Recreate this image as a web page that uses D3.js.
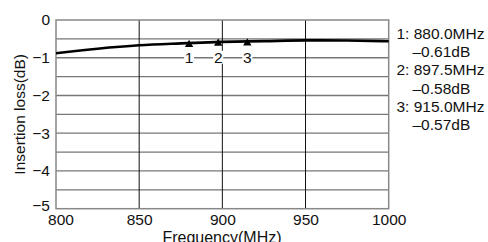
<!DOCTYPE html>
<html><head><meta charset="utf-8">
<script src="https://cdn.jsdelivr.net/npm/d3@7"></script>
<style>body{margin:0;background:#fff}text{font-family:"Liberation Sans",Arial,sans-serif}</style>
</head><body><svg id="c" width="488" height="242"></svg>
<script>
const freqs = [800, 825, 850, 875, 900, 925, 950, 975, 1000];
const loss = [-0.88, -0.76, -0.67, -0.62, -0.58, -0.56, -0.54, -0.545, -0.565];
const markerIds = ["1", "2", "3"];
const markerFreqs = [880.0, 897.5, 915.0];
const markerLoss = [-0.61, -0.58, -0.57];
const xTicks = [800, 850, 900, 950, 1000];
const yTicks = [0, -1, -2, -3, -4, -5];
const yGrid = [-0.5, -1, -1.5, -2, -2.5, -3, -3.5, -4, -4.5];

const FS = 15.5;
const svg = d3.select("#c");
const L = 56, R = 388.7, T = 20, B = 208.7;
const x = d3.scaleLinear().domain([800, 1000]).range([L, R]);
const y = d3.scaleLinear().domain([0, -5]).range([T, B]);

// horizontal grid
svg.append("g").selectAll("line").data(yGrid).join("line")
  .attr("x1", L).attr("x2", R).attr("y1", d => y(d)).attr("y2", d => y(d))
  .attr("stroke", "#777").attr("stroke-width", 1.3);
// vertical grid
svg.append("g").selectAll("line").data(xTicks.slice(1, -1)).join("line")
  .attr("x1", d => x(d)).attr("x2", d => x(d)).attr("y1", T).attr("y2", B)
  .attr("stroke", "#111").attr("stroke-width", 1);
// frame
svg.append("rect").attr("x", L).attr("y", T).attr("width", R - L).attr("height", B - T)
  .attr("fill", "none").attr("stroke", "#888").attr("stroke-width", 1.5);

// axes
const yAxis = d3.axisLeft(y).tickValues(yTicks).tickSize(0).tickPadding(6)
  .tickFormat(d => d === 0 ? "0" : "\u2212" + Math.abs(d));
const gy = svg.append("g").attr("transform", `translate(${L},0)`).call(yAxis);
gy.select(".domain").remove();
gy.selectAll("text").attr("font-size", FS).attr("fill", "#111")
  .attr("font-family", "Liberation Sans, Arial, sans-serif")
  .attr("dy", d => d === -5 ? "0.1em" : "0.32em");

const xAxis = d3.axisBottom(x).tickValues(xTicks).tickSize(0).tickPadding(5).tickFormat(d3.format("d"));
const gx = svg.append("g").attr("transform", `translate(0,${B})`).call(xAxis);
gx.select(".domain").remove();
gx.selectAll("text").attr("font-size", FS).attr("fill", "#111")
  .attr("font-family", "Liberation Sans, Arial, sans-serif")
  .attr("dx", d => d === 800 ? 4.5 : 0);

// curve
const line = d3.line().x((d, i) => x(freqs[i])).y(d => y(d)).curve(d3.curveMonotoneX);
svg.append("path").attr("d", line(loss)).attr("fill", "none")
  .attr("stroke", "#000").attr("stroke-width", 2.6);

// markers
const tri = d3.symbol().type(d3.symbolTriangle).size(30);
svg.append("g").selectAll("path").data(markerFreqs).join("path")
  .attr("d", tri).attr("transform", (d, i) => `translate(${x(d)},${y(markerLoss[i]) + 1.5})`)
  .attr("fill", "#000");
const lab = svg.append("g").selectAll("g").data(markerIds).join("g")
  .attr("transform", (d, i) => `translate(${x(markerFreqs[i])},${y(-1)})`);
lab.append("rect").attr("x", -5).attr("y", -7).attr("width", 10).attr("height", 13).attr("fill", "#fff");
lab.append("text").text(d => d).attr("text-anchor", "middle").attr("y", 5.5)
  .attr("font-size", FS).attr("fill", "#111");

// legend
const legLines = [];
markerIds.forEach((id, i) => {
  legLines.push({t: `${id}: ${markerFreqs[i].toFixed(1)}MHz`, dx: 0});
  legLines.push({t: `\u2013${Math.abs(markerLoss[i]).toFixed(2)}dB`, dx: 16});
});
svg.append("g").selectAll("text").data(legLines).join("text")
  .attr("x", d => 396.5 + d.dx).attr("y", (d, i) => 38.5 + i * 18.35)
  .attr("font-size", FS).attr("fill", "#111").text(d => d.t);

// titles
svg.append("text").attr("x", 222).attr("y", 242.5).attr("text-anchor", "middle")
  .attr("font-size", 16).attr("fill", "#111").text("Frequency(MHz)");
svg.append("text").attr("transform", `translate(24.5,${(T + B) / 2}) rotate(-90)`)
  .attr("text-anchor", "middle").attr("font-size", FS).attr("fill", "#111")
  .text("Insertion loss(dB)");
</script></body></html>
